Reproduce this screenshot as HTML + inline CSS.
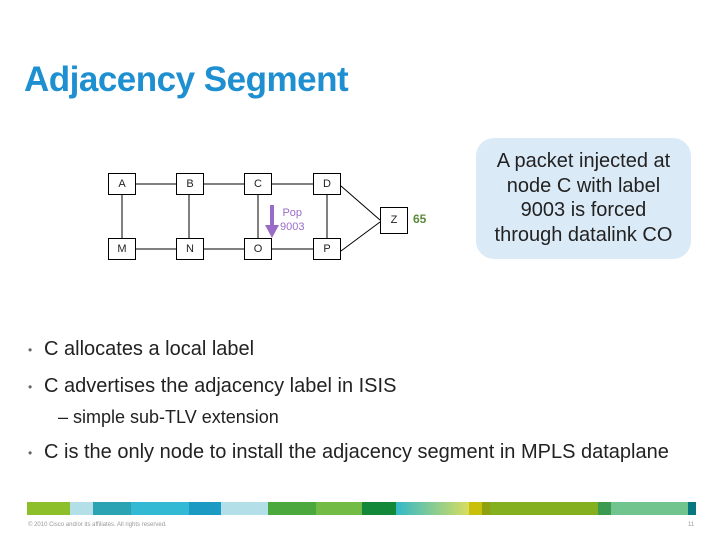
<!DOCTYPE html>
<html><head><style>
body{margin:0;width:720px;height:540px;background:#fff;font-family:"Liberation Sans",sans-serif;position:relative;overflow:hidden}
.a{position:absolute}
.n{position:absolute;width:26px;height:20px;border:1px solid #000;background:#fff;font-size:11px;text-align:center;line-height:20px;color:#222}
.t{position:absolute;font-size:20px;color:#222;white-space:nowrap}
.b{position:absolute;left:28px;font-size:12px;color:#666}
</style></head><body>
<div class="a" style="left:24px;top:60px;font-size:35px;font-weight:bold;color:#1e8fd0;letter-spacing:-0.5px">Adjacency Segment</div>
<svg class="a" style="left:0;top:0" width="720" height="540">
<g stroke="#000" stroke-width="1">
<line x1="135" y1="184" x2="176" y2="184"/><line x1="203" y1="184" x2="244" y2="184"/><line x1="272" y1="184" x2="313" y2="184"/>
<line x1="135" y1="249" x2="176" y2="249"/><line x1="203" y1="249" x2="244" y2="249"/><line x1="272" y1="249" x2="313" y2="249"/>
<line x1="122" y1="194" x2="122" y2="238"/><line x1="189" y1="194" x2="189" y2="238"/><line x1="258" y1="194" x2="258" y2="238"/><line x1="327" y1="194" x2="327" y2="238"/>
<line x1="341" y1="186" x2="380" y2="220"/><line x1="341" y1="251" x2="380" y2="222"/>
</g>
<line x1="272" y1="205" x2="272" y2="227" stroke="#9a6cc8" stroke-width="4"/>
<polygon points="265,225 279,225 272,238" fill="#9a6cc8"/>
<rect x="476" y="138" width="215" height="121" rx="18" fill="#dbeaf7"/>
</svg>
<div class="n" style="left:108px;top:173px">A</div><div class="n" style="left:176px;top:173px">B</div><div class="n" style="left:244px;top:173px">C</div><div class="n" style="left:313px;top:173px">D</div>
<div class="n" style="left:108px;top:238px">M</div><div class="n" style="left:176px;top:238px">N</div><div class="n" style="left:244px;top:238px">O</div><div class="n" style="left:313px;top:238px">P</div>
<div class="n" style="left:380px;top:207px;height:25px;line-height:25px">Z</div>
<div class="a" style="left:280px;top:206px;font-size:11px;color:#9a6cc8;line-height:14px;text-align:center">Pop<br>9003</div>
<div class="a" style="left:413px;top:212px;font-size:12px;font-weight:bold;color:#5a8a3a">65</div>
<div class="a" style="left:466px;top:149px;width:235px;text-align:center;font-size:20px;line-height:24.5px;color:#222">A packet injected at<br>node C with label<br>9003 is forced<br>through datalink CO</div>
<div class="b" style="top:343px">•</div><div class="t" style="left:44px;top:338px">C allocates a local label</div>
<div class="b" style="top:380px">•</div><div class="t" style="left:44px;top:375px">C advertises the adjacency label in ISIS</div>
<div class="t" style="left:58px;top:407px;font-size:18px">– simple sub-TLV extension</div>
<div class="b" style="top:446px">•</div><div class="t" style="left:44px;top:441px">C is the only node to install the adjacency segment in MPLS dataplane</div>
<div class="a" style="left:27px;top:502px;height:13px;width:669px;display:flex">
<div style="width:43px;background:#8dbf2a"></div><div style="width:23px;background:#b3dfe8"></div><div style="width:38px;background:#2ba3b3"></div><div style="width:58px;background:#33b9d3"></div><div style="width:32px;background:#1b9ac4"></div><div style="width:47px;background:#b3dfe8"></div><div style="width:48px;background:#4aa83c"></div><div style="width:46px;background:#72bb44"></div><div style="width:34px;background:#138838"></div><div style="width:73px;background:linear-gradient(90deg,#33b9c8,#d8dd60)"></div><div style="width:13px;background:#c8c00a"></div><div style="width:8px;background:#8fa010"></div><div style="width:108px;background:#84b020"></div><div style="width:13px;background:#3a9a50"></div><div style="width:77px;background:#72c48e"></div><div style="width:8px;background:#087880"></div>
</div>
<div class="a" style="left:28px;top:522px;font-size:6px;color:#999">© 2010 Cisco and/or its affiliates. All rights reserved.</div>
<div class="a" style="left:688px;top:522px;font-size:6px;color:#999">11</div>
</body></html>
